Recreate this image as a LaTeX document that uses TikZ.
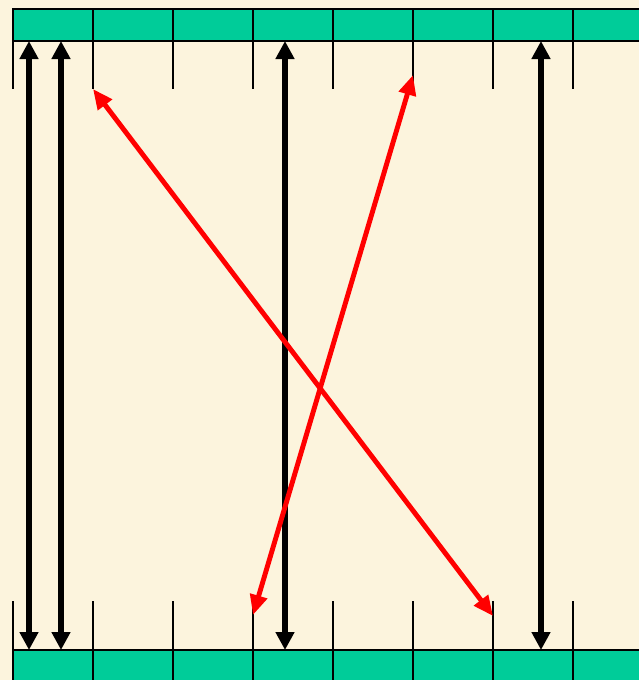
\documentclass[tikz,border=0pt]{standalone}
\usepackage{xcolor}
\usepackage{tikz}
\usetikzlibrary{arrows.meta,calc}

\definecolor{paper}{RGB}{252,244,221}
\definecolor{slot}{RGB}{0,204,153}

\begin{document}
\begin{tikzpicture}[x=0.02cm, y=-0.02cm,
  cell/.style={draw, line width=1.1pt, fill=slot, minimum width=1.6cm, minimum height=0.64cm, inner sep=0pt, outer sep=0pt},
  tick/.style={line width=1.1pt},
  bus/.style={line width=3.2pt, {Triangle[length=3.6mm,width=3.6mm]}-{Triangle[length=3.6mm,width=3.6mm]}},
  cross/.style={line width=2.8pt, red, {Triangle[length=4mm,width=3.4mm]}-{Triangle[length=4mm,width=3.4mm]}}]
\fill[paper] (0,0) rectangle (639,680);
\clip (0,0) rectangle (639,680);
% slots at top and bottom
\foreach \i in {0,...,7}{
  \node[cell] (t\i) at ({53+80*\i},25) {};
  \node[cell] (b\i) at ({53+80*\i},666) {};
  \draw[tick] (t\i.south west) -- ++(0,48);
  \draw[tick] (b\i.north west) -- ++(0,-49);
}
% straight links
\foreach \n/\x in {a/29, b/61, c/285, d/541}{
  \coordinate (u\n) at (\x,41);
  \coordinate (l\n) at (\x,650);
  \draw[bus] (u\n) -- (l\n);
}
% crossing links
\coordinate (p1) at (93,89);
\coordinate (q1) at (493,616);
\coordinate (p2) at (413,75);
\coordinate (q2) at (253,615);
\draw[cross] (p1) -- (q1);
\draw[cross] (p2) -- (q2);
\end{tikzpicture}
\end{document}
